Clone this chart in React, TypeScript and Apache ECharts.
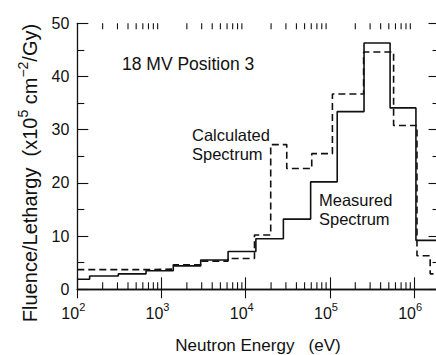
import React, { useEffect, useRef } from "react";
import * as echarts from "echarts";

// Measured spectrum: bin edges (eV) and fluence/lethargy values (x10^5 cm^-2/Gy)
const measuredEdges = [100, 140, 307, 655, 1380, 2920, 6170, 13200, 28000, 59000, 122000, 254000, 518000, 1050000, 2000000];
const measuredValues = [1.9, 2.5, 2.9, 3.5, 4.4, 5.5, 7.1, 9.5, 13.2, 20.2, 33.4, 46.3, 34.1, 9.2];

// Calculated spectrum
const calculatedEdges = [100, 655, 1380, 2920, 6170, 12700, 19800, 30700, 60800, 107000, 251000, 570000, 1080000, 1550000, 2000000];
const calculatedValues = [3.7, 3.8, 4.6, 5.3, 5.8, 10.2, 27.2, 22.7, 25.5, 36.7, 44.6, 30.8, 6.3, 2.9];

const xMin = 100;
const xMax = 2000000;
const yMin = 0;
const yMax = 50;
const decades = [2, 3, 4, 5, 6];
const minorMultipliers = [2, 3, 4, 5, 6, 7, 8, 9];

const FONT = "Liberation Sans, Arial, Helvetica, sans-serif";
const INK = "#111";

function stepPoints(edges: number[], values: number[]) {
  const pts: number[][] = [];
  for (let i = 0; i < values.length; i++) {
    pts.push([edges[i], values[i]]);
    pts.push([edges[i + 1], values[i]]);
  }
  return pts;
}

function minorTickValues() {
  const out: number[][] = [];
  decades.forEach((d) => {
    minorMultipliers.forEach((m) => {
      const v = m * Math.pow(10, d);
      if (v < xMax) out.push([v]);
    });
  });
  return out;
}

export default function App() {
  const ref = useRef<HTMLDivElement>(null);

  useEffect(() => {
    if (!ref.current) return;
    const chart = echarts.init(ref.current, null, { renderer: "svg" });

    const option: any = {
      animation: false,
      backgroundColor: "#fff",
      grid: { left: 77.3, top: 23.3, right: 4.5, bottom: 65.7, outerBoundsMode: "none", containLabel: false },
      xAxis: [
        {
          type: "log",
          logBase: 10,
          min: xMin,
          max: xMax,
          position: "bottom",
          axisLine: { show: true, lineStyle: { color: INK, width: 1.3 } },
          axisTick: { show: true, inside: true, length: 12, lineStyle: { color: INK, width: 1.1 } },
          splitLine: { show: false },
          axisLabel: {
            showMaxLabel: false,
            margin: 12,
            padding: [0, 8, 0, 0],
            formatter: (v: number) => `{b|10}{s|${Math.round(Math.log10(v))}}`,
            rich: {
              b: { fontSize: 16, fontFamily: FONT, color: INK, lineHeight: 20, verticalAlign: "bottom" },
              s: { fontSize: 11, fontFamily: FONT, color: INK, lineHeight: 11, verticalAlign: "top" },
            },
          },
        },
        {
          type: "log",
          logBase: 10,
          min: xMin,
          max: xMax,
          position: "top",
          axisLine: { show: true, lineStyle: { color: INK, width: 1.3 } },
          axisTick: { show: true, inside: true, length: 9, lineStyle: { color: INK, width: 1.1 } },
          axisLabel: { show: false },
          splitLine: { show: false },
        },
      ],
      yAxis: [
        {
          type: "value",
          min: yMin,
          max: yMax,
          interval: 10,
          position: "left",
          axisLine: { show: true, lineStyle: { color: INK, width: 1.3 } },
          axisTick: { show: true, inside: true, length: 11, lineStyle: { color: INK, width: 1.1 } },
          minorTick: { show: true, splitNumber: 2, length: 7, lineStyle: { color: INK, width: 1.1 } },
          splitLine: { show: false },
          axisLabel: { fontSize: 16, fontFamily: FONT, color: INK, margin: 8 },
        },
        {
          type: "value",
          min: yMin,
          max: yMax,
          interval: 10,
          position: "right",
          axisLine: { show: true, lineStyle: { color: INK, width: 1.3 } },
          axisTick: { show: true, inside: true, length: 11, lineStyle: { color: INK, width: 1.1 } },
          minorTick: { show: true, splitNumber: 2, length: 7, lineStyle: { color: INK, width: 1.1 } },
          splitLine: { show: false },
          axisLabel: { show: false },
        },
      ],
      series: [
        {
          name: "Measured Spectrum",
          type: "line",
          data: stepPoints(measuredEdges, measuredValues),
          showSymbol: false,
          lineStyle: { color: INK, width: 1.6, type: "solid" },
          silent: true,
        },
        {
          name: "Calculated Spectrum",
          type: "line",
          data: stepPoints(calculatedEdges, calculatedValues),
          showSymbol: false,
          lineStyle: { color: INK, width: 1.6, type: [7, 4] },
          silent: true,
        },
        {
          name: "minor ticks",
          type: "custom",
          silent: true,
          data: minorTickValues(),
          encode: { x: 0 },
          renderItem: (params: any, api: any) => {
            const v = api.value(0);
            const b = api.coord([v, yMin]);
            const t = api.coord([v, yMax]);
            return {
              type: "group",
              children: [
                { type: "line", shape: { x1: b[0], y1: b[1], x2: b[0], y2: b[1] - 7 }, style: { stroke: INK, lineWidth: 1.1 } },
                { type: "line", shape: { x1: t[0], y1: t[1], x2: t[0], y2: t[1] + 6 }, style: { stroke: INK, lineWidth: 1.1 } },
              ],
            };
          },
        },
      ],
      graphic: [
        {
          type: "text",
          x: 122,
          y: 64,
          style: { text: "18 MV Position 3", fontSize: 17.5, fontFamily: FONT, fill: INK, verticalAlign: "middle", align: "left" },
        },
        {
          type: "text",
          x: 192,
          y: 144,
          style: { text: "Calculated\nSpectrum", fontSize: 16.5, lineHeight: 19, fontFamily: FONT, fill: INK, verticalAlign: "middle", align: "left" },
        },
        {
          type: "text",
          x: 319,
          y: 209,
          style: { text: "Measured\nSpectrum", fontSize: 16.5, lineHeight: 19, fontFamily: FONT, fill: INK, verticalAlign: "middle", align: "left" },
        },
        {
          type: "text",
          x: 258,
          y: 345,
          style: { text: "Neutron Energy   (eV)", fontSize: 17, fontFamily: FONT, fill: INK, verticalAlign: "middle", align: "center" },
        },
        {
          type: "text",
          x: 28,
          y: 173,
          rotation: Math.PI / 2,
          style: {
            text: "{a|Fluence/Lethargy  (x10}{s|5}{a| cm}{s|−2}{a|/Gy)}",
            align: "center",
            verticalAlign: "middle",
            rich: {
              a: { fontSize: 20, fontFamily: FONT, fill: INK, lineHeight: 24, verticalAlign: "bottom" },
              s: { fontSize: 14, fontFamily: FONT, fill: INK, lineHeight: 14, verticalAlign: "top" },
            },
          },
        },
      ],
    };

    chart.setOption(option);
    return () => chart.dispose();
  }, []);

  return (
    <div style={{ position: "fixed", left: 0, top: 0, width: 436, height: 355, overflow: "hidden", background: "#fff" }}>
      <div ref={ref} style={{ width: 444, height: 355 }} />
    </div>
  );
}
